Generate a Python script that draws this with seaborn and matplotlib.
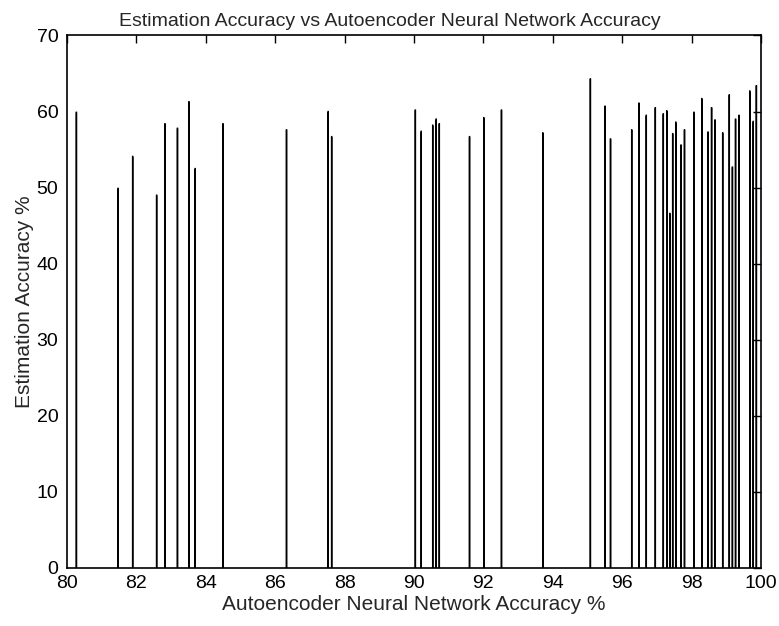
import numpy as np
import pandas as pd
import matplotlib
matplotlib.use("Agg")
import matplotlib.pyplot as plt
import seaborn as sns

# Autoencoder neural network accuracy (%) for each trial
nn_accuracy = [
    80.28, 81.48, 81.90, 82.59, 82.83, 83.19, 83.52, 83.70, 84.50, 86.33,
    87.53, 87.63, 90.04, 90.21, 90.54, 90.64, 90.73, 91.60, 92.01, 92.52,
    93.71, 95.08, 95.50, 95.66, 96.27, 96.48, 96.69, 96.95, 97.18, 97.28,
    97.37, 97.45, 97.54, 97.69, 97.79, 98.06, 98.29, 98.47, 98.57, 98.67,
    98.89, 99.08, 99.17, 99.26, 99.36, 99.67, 99.77, 99.86,
]
# Estimation accuracy (%) for each trial
est_accuracy = [
    59.9, 49.9, 54.1, 49.0, 58.4, 57.8, 61.3, 52.5, 58.4, 57.6,
    60.0, 56.7, 60.2, 57.4, 58.2, 59.0, 58.4, 56.7, 59.2, 60.2,
    57.2, 64.3, 60.7, 56.4, 57.6, 61.1, 59.5, 60.5, 59.7, 60.1,
    46.6, 57.1, 58.6, 55.6, 57.6, 59.9, 61.7, 57.3, 60.5, 58.9,
    57.2, 62.2, 52.7, 59.0, 59.5, 62.7, 58.7, 63.4,
]
x_ticks = [80, 82, 84, 86, 88, 90, 92, 94, 96, 98, 100]
y_ticks = [0, 10, 20, 30, 40, 50, 60, 70]

df = pd.DataFrame({"nn": nn_accuracy, "est": est_accuracy})

sns.set_style("white")
plt.rcParams["font.family"] = ["Liberation Sans", "DejaVu Sans"]

fig = plt.figure(figsize=(7.79, 6.26), dpi=100)
ax = fig.add_axes([0.0856, 0.0927, 0.8916, 0.8506])

sns.barplot(data=df, x="nn", y="est", native_scale=True, width=0.02,
            color="black", edgecolor="black", linewidth=1.05,
            errorbar=None, ax=ax, saturation=1)
for p in ax.patches:
    p.set_snap(False)

ax.set_xlim(80, 100)
ax.set_ylim(0, 70)
ax.set_xticks(x_ticks)
ax.set_xticklabels([str(t) for t in x_ticks])
ax.set_yticks(y_ticks)
ax.set_yticklabels([str(t) for t in y_ticks])
ax.tick_params(direction="in", length=6, width=1, top=True, right=True,
               labelsize=14, colors="black")
ax.tick_params(axis="x", pad=5)
ax.tick_params(axis="y", pad=6)
for s in ax.spines.values():
    s.set_visible(True)
    s.set_color("black")
    s.set_linewidth(1.2)

title = ax.set_title("Estimation Accuracy vs Autoencoder Neural Network Accuracy",
                     fontsize=14, pad=7)
title.set_x(0.4647)
ax.set_xlabel("Autoencoder Neural Network Accuracy %", fontsize=15, labelpad=2)
ax.set_ylabel("Estimation Accuracy %", fontsize=15, labelpad=2)

fig.savefig("out.png", dpi=100, facecolor="white")
